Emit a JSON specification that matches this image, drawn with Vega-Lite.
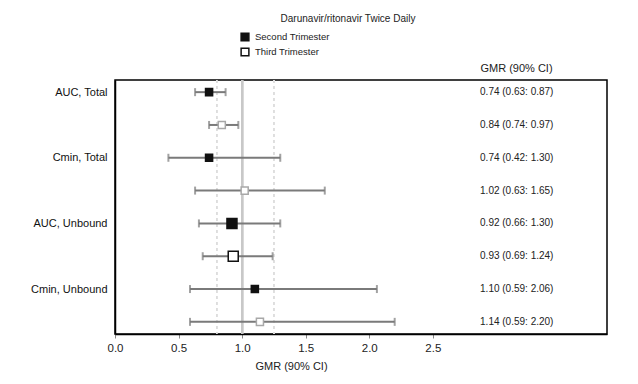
{
  "$schema": "https://vega.github.io/schema/vega-lite/v6.json",
  "width": 492,
  "height": 254,
  "autosize": "none",
  "padding": {"left": 115, "top": 80, "right": 31, "bottom": 50},
  "config": {
    "font": "Liberation Sans",
    "view": {"stroke": "#000", "strokeWidth": 1.5}
  },
  "title": {
    "text": "Darunavir/ritonavir Twice Daily",
    "fontSize": 10,
    "fontWeight": "normal",
    "color": "#222",
    "anchor": "middle",
    "dx": -13,
    "offset": 8
  },
  "data": {
    "values": [
      {"key": "AUC, Total", "param": "AUC, Total", "trimester": "Second Trimester", "gmr": 0.74, "lo": 0.63, "hi": 0.87, "label": "0.74 (0.63: 0.87)"},
      {"key": "AUC, Total (3)", "param": "AUC, Total", "trimester": "Third Trimester", "gmr": 0.84, "lo": 0.74, "hi": 0.97, "label": "0.84 (0.74: 0.97)"},
      {"key": "Cmin, Total", "param": "Cmin, Total", "trimester": "Second Trimester", "gmr": 0.74, "lo": 0.42, "hi": 1.30, "label": "0.74 (0.42: 1.30)"},
      {"key": "Cmin, Total (3)", "param": "Cmin, Total", "trimester": "Third Trimester", "gmr": 1.02, "lo": 0.63, "hi": 1.65, "label": "1.02 (0.63: 1.65)"},
      {"key": "AUC, Unbound", "param": "AUC, Unbound", "trimester": "Second Trimester", "gmr": 0.92, "lo": 0.66, "hi": 1.30, "label": "0.92 (0.66: 1.30)"},
      {"key": "AUC, Unbound (3)", "param": "AUC, Unbound", "trimester": "Third Trimester", "gmr": 0.93, "lo": 0.69, "hi": 1.24, "label": "0.93 (0.69: 1.24)"},
      {"key": "Cmin, Unbound", "param": "Cmin, Unbound", "trimester": "Second Trimester", "gmr": 1.10, "lo": 0.59, "hi": 2.06, "label": "1.10 (0.59: 2.06)"},
      {"key": "Cmin, Unbound (3)", "param": "Cmin, Unbound", "trimester": "Third Trimester", "gmr": 1.14, "lo": 0.59, "hi": 2.20, "label": "1.14 (0.59: 2.20)"}
    ]
  },
  "resolve": {"axis": {"x": "independent", "y": "independent"}},
  "layer": [
    {
      "mark": {"type": "rule", "color": "#dedede", "strokeWidth": 1, "strokeDash": [3, 3]},
      "encoding": {
        "x": {"datum": 0.8, "type": "quantitative", "scale": {"domain": [0, 3.87], "nice": false, "zero": false}, "axis": null}
      }
    },
    {
      "mark": {"type": "rule", "color": "#dedede", "strokeWidth": 1, "strokeDash": [3, 3]},
      "encoding": {
        "x": {"datum": 1.25, "type": "quantitative", "axis": null}
      }
    },
    {
      "mark": {"type": "rule", "color": "#c8c8c8", "strokeWidth": 2},
      "encoding": {
        "x": {"datum": 1.0, "type": "quantitative", "axis": null}
      }
    },
    {
      "mark": {"type": "rule", "color": "#7a7a7a", "strokeWidth": 2},
      "encoding": {
        "y": {"field": "key", "type": "nominal", "sort": null, "scale": {"type": "point", "padding": 0.37}, "axis": null},
        "x": {"field": "lo", "type": "quantitative", "axis": null},
        "x2": {"field": "hi"}
      }
    },
    {
      "mark": {"type": "tick", "color": "#7a7a7a", "orient": "vertical", "size": 8, "thickness": 2},
      "encoding": {
        "y": {"field": "key", "type": "nominal", "sort": null, "axis": null},
        "x": {"field": "lo", "type": "quantitative", "axis": null}
      }
    },
    {
      "mark": {"type": "tick", "color": "#7a7a7a", "orient": "vertical", "size": 8, "thickness": 2},
      "encoding": {
        "y": {"field": "key", "type": "nominal", "sort": null, "axis": null},
        "x": {"field": "hi", "type": "quantitative", "axis": null}
      }
    },
    {
      "mark": {"type": "point", "shape": "square", "filled": true, "strokeWidth": 1.5, "opacity": 1},
      "encoding": {
        "y": {
          "field": "key", "type": "nominal", "sort": null,
          "axis": {
            "title": null,
            "labelExpr": "indexof(datum.value, '(3)') >= 0 ? '' : datum.value",
            "labelFontSize": 11,
            "labelColor": "#111",
            "labelPadding": 8,
            "ticks": false,
            "domainColor": "#000",
            "domainWidth": 1.5,
            "grid": false
          }
        },
        "x": {
          "field": "gmr", "type": "quantitative",
          "axis": {
            "title": "GMR (90% CI)",
            "titleFontSize": 11,
            "titleFontWeight": "normal",
            "titleColor": "#222",
            "titleX": 176,
            "titleY": 26,
            "values": [0, 0.5, 1, 1.5, 2, 2.5],
            "format": ".1f",
            "labelFlush": false,
            "labelFontSize": 11.5,
            "labelColor": "#222",
            "labelPadding": 4,
            "tickColor": "#888",
            "tickSize": 4,
            "domainColor": "#000",
            "domainWidth": 1.5,
            "grid": false
          }
        },
        "fill": {
          "field": "trimester", "type": "nominal",
          "scale": {"domain": ["Second Trimester", "Third Trimester"], "range": ["#111111", "#ffffff"]},
          "legend": {
            "title": null,
            "orient": "none",
            "legendX": 125,
            "legendY": -48,
            "symbolType": "square",
            "symbolSize": 60,
            "symbolStrokeColor": "#111",
            "symbolStrokeWidth": 1.5,
            "labelFontSize": 9.5,
            "labelColor": "#222",
            "rowPadding": 1,
            "labelOffset": 5
          }
        },
        "stroke": {
          "condition": {"test": "datum.trimester == 'Third Trimester' && datum.param != 'AUC, Unbound'", "value": "#a8a8a8"},
          "value": "#111"
        },
        "size": {
          "condition": {"test": "datum.param == 'AUC, Unbound'", "value": 100},
          "value": 50
        }
      }
    },
    {
      "mark": {"type": "text", "fontSize": 10, "color": "#222", "align": "center", "baseline": "middle"},
      "encoding": {
        "y": {"field": "key", "type": "nominal", "sort": null, "axis": null},
        "x": {
          "datum": 3.16, "type": "quantitative",
          "axis": {
            "orient": "top",
            "title": "GMR (90% CI)",
            "titleFontSize": 11,
            "titleFontWeight": "normal",
            "titleColor": "#222",
            "titleX": 401,
            "titleY": -12,
            "titleBaseline": "middle",
            "labels": false,
            "ticks": false,
            "domain": false,
            "grid": false
          }
        },
        "text": {"field": "label"}
      }
    }
  ]
}
